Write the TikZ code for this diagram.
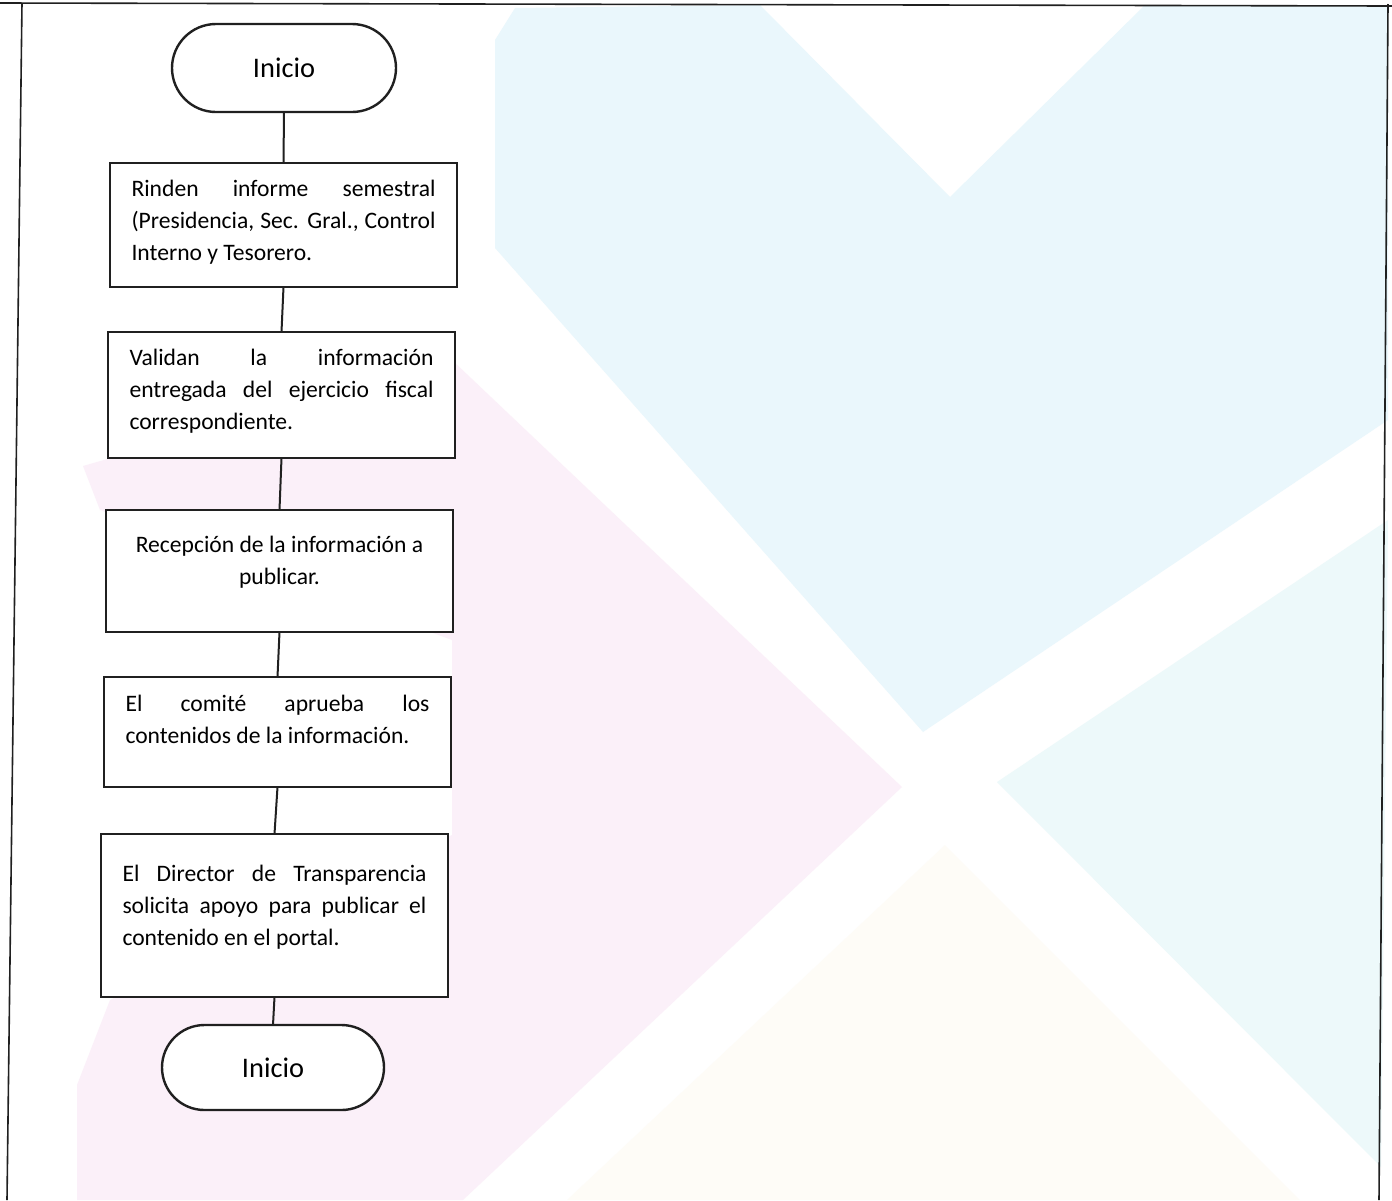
\documentclass[tikz,border=0pt]{standalone}
\usepackage{fontspec}
\setmainfont{Carlito}
\usetikzlibrary{shapes.misc}

\definecolor{inkline}{RGB}{32,32,32}
\definecolor{wmblue}{RGB}{234,247,252}
\definecolor{wmcyan}{RGB}{237,249,250}
\definecolor{wmpink}{RGB}{251,240,249}
\definecolor{wmcream}{RGB}{254,252,247}

% body of a process box: total height, first baseline offset, alignment, text
\newcommand{\procbody}[4]{\parbox[c][#1][t]{152pt}{#3\rule{0pt}{#2}\ignorespaces#4}}
\newcommand{\fullline}[1]{\makebox[\linewidth][s]{#1}}

\tikzset{
  procbox/.style={rectangle, draw=inkline, line width=1.3pt, fill=white,
    inner sep=0pt, outer sep=0pt, minimum width=173.5pt,
    font=\fontsize{11.8}{16}\selectfont},
  termbox/.style={rounded rectangle, draw=inkline, line width=1.2pt, fill=white,
    inner sep=0pt, outer sep=0pt, minimum width=112pt, minimum height=44pt,
    font=\fontsize{14.2}{17}\selectfont},
  conn/.style={draw=inkline, line width=1pt},
  frameline/.style={draw=inkline, line width=0.8pt},
}

\begin{document}
\begin{tikzpicture}[x=0.5pt, y=-0.5pt]
\useasboundingbox (0,0) rectangle (1392,1200);
\fill[white] (0,0) rectangle (1392,1200);

% pale background artwork
\fill[wmblue] (495,248) -- (495,40) -- (515,8) -- (760,5) -- (950,197)
  -- (1145,5) -- (1388,5) -- (1388,420) -- (923,732) -- cycle;
\fill[wmcyan] (1388,520) -- (997,782) -- (1381,1167) -- cycle;
\fill[wmpink] (83,466) -- (452,360) -- (902,787) -- (463,1200) -- (77,1200)
  -- (77,1085) -- (110,1000) -- (452,835) -- (452,640) -- (100,510) -- cycle;
\fill[wmcream] (945,845) -- (1300,1200) -- (567,1200) -- cycle;

% page frame
\draw[frameline] (0,3) -- (1392,6);
\draw[frameline] (22,3) -- (7,1200);
\draw[frameline] (1388,4) -- (1379,1200);

% flowchart
\node[termbox] (t1) at (284,68) {Inicio};

\node[procbox] (b1) at (283.5,225)
  {\procbody{62pt}{16.75pt}{}{\fullline{Rinden informe semestral}\\
   \fullline{(Presidencia, Sec. Gral., Control}\\
   Interno y Tesorero.}};

\node[procbox] (b2) at (281.5,395)
  {\procbody{63pt}{16.5pt}{}{\fullline{Validan la información}\\
   \fullline{entregada del ejercicio fiscal}\\
   correspondiente.}};

\node[procbox] (b3) at (279.5,571)
  {\procbody{61pt}{21pt}{\centering}{Recepción de la información a\\
   publicar.}};

\node[procbox] (b4) at (277.5,732)
  {\procbody{55pt}{17.2pt}{}{\fullline{El comité aprueba los}\\
   contenidos de la información.}};

\node[procbox] (b5) at (274.5,915.5)
  {\procbody{81.5pt}{23.5pt}{}{\fullline{El Director de Transparencia}\\
   \fullline{solicita apoyo para publicar el}\\
   contenido en el portal.}};

\node[termbox, minimum width=111pt, minimum height=42.5pt] (t2) at (273,1067.5) {Inicio};

\draw[conn] (t1.south) -- (b1.north);
\draw[conn] (b1.south) -- (b2.north);
\draw[conn] (b2.south) -- (b3.north);
\draw[conn] (b3.south) -- (b4.north);
\draw[conn] (b4.south) -- (b5.north);
\draw[conn] (b5.south) -- (t2.north);
\end{tikzpicture}
\end{document}
